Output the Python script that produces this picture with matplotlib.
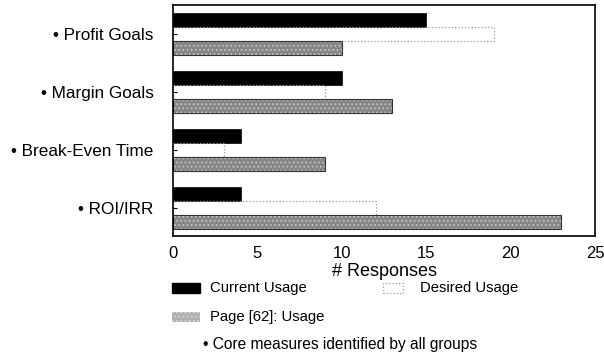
import matplotlib
matplotlib.use("Agg")
import matplotlib.pyplot as plt
from matplotlib.patches import Rectangle
import numpy as np

plt.rcParams['font.family'] = ['Liberation Sans', 'DejaVu Sans']
plt.rcParams['hatch.linewidth'] = 0.6

categories = ["• Profit Goals", "• Margin Goals", "• Break-Even Time", "• ROI/IRR"]
current_usage = [15, 10, 4, 4]
desired_usage = [19, 9, 3, 12]
page62_usage = [10, 13, 9, 23]
x_ticks = [0, 5, 10, 15, 20, 25]
series_labels = ["Current Usage", "Desired Usage", "Page [62]: Usage"]
x_label = "# Responses"
footnote = "• Core measures identified by all groups"

W, H = 604, 364
fig = plt.figure(figsize=(W / 100, H / 100), dpi=100)
ax = fig.add_axes([173 / W, 1 - 236 / H, (595 - 173) / W, (236 - 5) / H])

y = np.arange(len(categories))
h = 0.24
ax.barh(y - h, current_usage, height=h, color='black', edgecolor='black', linewidth=0.5)
ax.barh(y, desired_usage, height=h, fill=False, edgecolor='#9a9a9a', linestyle=':', linewidth=0.9)
ax.barh(y + h, page62_usage, height=h, color='#878787', edgecolor='#d0d0d0', hatch='....', linewidth=0)
ax.barh(y + h, page62_usage, height=h, fill=False, edgecolor='#333333', linewidth=0.8)

ax.set_xlim(0, 25)
ax.set_ylim(3.48, -0.5)
ax.set_xticks(x_ticks)
ax.set_xticklabels([str(t) for t in x_ticks], fontsize=12)
ax.set_yticks(y)
ax.set_yticklabels(categories, fontsize=12.3)
ax.tick_params(axis='y', direction='in', length=3, width=0.8, pad=14)
ax.tick_params(axis='x', length=0, pad=7)
ax.set_xlabel(x_label, fontsize=13, labelpad=2)
for s in ax.spines.values():
    s.set_linewidth(1.2)

# legend (manual placement below the axes)
def fig_rect(x0, y0, x1, y1, **kw):
    r = Rectangle((x0 / W, 1 - y1 / H), (x1 - x0) / W, (y1 - y0) / H,
                  transform=fig.transFigure, **kw)
    fig.add_artist(r)

fig_rect(172, 283, 200, 293, facecolor='black', edgecolor='black')
fig.text(210 / W, 1 - 288 / H, series_labels[0], fontsize=10.7, va='center', ha='left')
fig_rect(383, 283, 403, 293, fill=False, edgecolor='#9a9a9a', linestyle=':', linewidth=0.9)
fig.text(420 / W, 1 - 288 / H, series_labels[1], fontsize=10.7, va='center', ha='left')
fig_rect(172, 312, 200, 322, facecolor='#b0b0b0', edgecolor='#e0e0e0', hatch='....', linewidth=0)
fig.text(210 / W, 1 - 317 / H, series_labels[2], fontsize=10.7, va='center', ha='left')
fig.text(203 / W, 1 - 344 / H, footnote, fontsize=11.2, va='center', ha='left')

fig.savefig("out.png", dpi=100)
